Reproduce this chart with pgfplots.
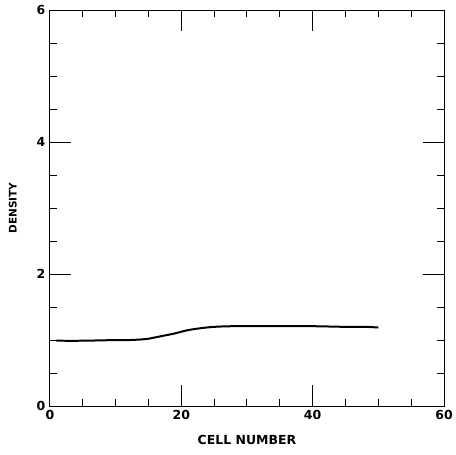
\documentclass[border=0pt]{standalone}
\usepackage{fontspec}
\setmainfont{DejaVu Sans}
\usepackage{pgfplots}
\pgfplotsset{compat=1.18}
\begin{document}
\begin{tikzpicture}
\begin{axis}[
    name=main,
    scale only axis,
    width=395pt, height=397pt,
    xmin=0, xmax=60, ymin=0, ymax=6,
    xtick={0,20,40,60}, ytick={0,2,4,6},
    minor x tick num=3, minor y tick num=3,
    tick align=inside,
    major tick length=21pt, minor tick length=7pt,
    tick style={black, line width=0.9pt},
    axis line style={line width=0.9pt},
    xticklabels={0,20,40,60}, yticklabels={0,2,4,6},
    tick label style={font=\fontsize{12.5}{14}\selectfont\bfseries},
    xticklabel style={yshift=-1pt},
    yticklabel style={xshift=-1pt},
    xlabel={CELL NUMBER}, ylabel={DENSITY},
    xlabel style={font=\fontsize{12.5}{14}\selectfont\bfseries,
      at={(axis description cs:0.5,-0.0856)}, anchor=center},
    ylabel style={font=\fontsize{10.5}{13}\selectfont\bfseries,
      at={(axis description cs:-0.094,0.5)}, anchor=center},
]
\addplot[black, line width=2pt, smooth] coordinates {
  (1,0.99) (5,0.99) (10,1.0) (12,1.0) (14,1.01) (15,1.02) (17,1.06) (19,1.10)
  (21,1.15) (23,1.18) (25,1.20) (28,1.21) (35,1.21) (40,1.21) (45,1.20)
  (48,1.20) (50,1.19)
};
\end{axis}
\path (main.south west) ++(-50pt,-49pt) (main.north east) ++(7pt,10pt);
\end{tikzpicture}
\end{document}
